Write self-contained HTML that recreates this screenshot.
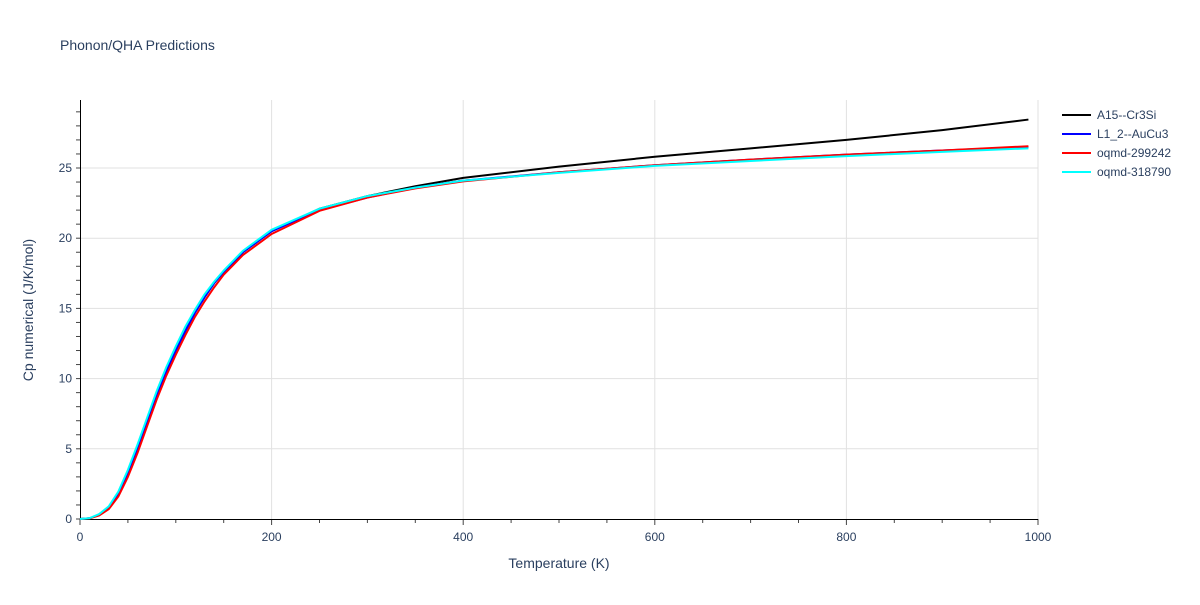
<!DOCTYPE html>
<html><head><meta charset="utf-8"><style>
body{margin:0;background:#fff;font-family:"Liberation Sans",sans-serif;}
svg text{font-family:"Liberation Sans",sans-serif;fill:#2a3f5f;}
</style></head><body>
<svg id="chart" width="1200" height="600" xmlns="http://www.w3.org/2000/svg">
<text x="60" y="50" font-size="14">Phonon/QHA Predictions</text>
<g id="grid"></g><g id="axes"></g><g id="series"></g><g id="legend"></g>
<text x="559" y="568" font-size="14" text-anchor="middle">Temperature (K)</text>
<text transform="translate(33,310) rotate(-90)" font-size="14" text-anchor="middle">Cp numerical (J/K/mol)</text>
</svg>
<script>
const temps=[0,10,20,30,40,50,60,70,80,90,100,110,120,130,140,150,160,170,180,190,200,250,300,350,400,500,600,700,800,900,990];
const cpA15=[0,0.05,0.3,0.8,1.8,3.3,5.0,6.9,8.8,10.5,12.0,13.4,14.7,15.8,16.8,17.6,18.3,19.0,19.5,20.0,20.5,22.1,23.0,23.7,24.3,25.1,25.8,26.4,27.0,27.7,28.45];
const cpL12=[0,0.05,0.3,0.8,1.8,3.3,5.0,6.9,8.8,10.5,12.0,13.4,14.7,15.8,16.8,17.6,18.3,19.0,19.5,20.0,20.5,22.0,22.9,23.6,24.1,24.7,25.2,25.6,25.95,26.25,26.5];
const cp299242=[0,0.04,0.25,0.7,1.6,3.0,4.7,6.6,8.5,10.2,11.7,13.1,14.4,15.5,16.5,17.4,18.1,18.8,19.3,19.8,20.3,21.95,22.9,23.55,24.05,24.7,25.2,25.6,25.95,26.25,26.55];
const cp318790=[0,0.06,0.35,0.9,1.95,3.5,5.3,7.2,9.1,10.8,12.3,13.7,14.9,16.0,16.9,17.7,18.4,19.1,19.6,20.1,20.6,22.1,23.0,23.6,24.1,24.65,25.15,25.5,25.85,26.15,26.4];
const xTicks=[0,200,400,600,800,1000];
const yTicks=[0,5,10,15,20,25];
const seriesNames=["A15--Cr3Si","L1_2--AuCu3","oqmd-299242","oqmd-318790"];
const seriesColors=["#000000","#0000ff","#ff0000","#00ffff"];
const seriesData=[cpA15,cpL12,cp299242,cp318790];
const NS="http://www.w3.org/2000/svg";
const X=v=>80+v*0.958, Y=v=>519-v*14.04;
function mk(t,a,p){const e=document.createElementNS(NS,t);for(const k in a)e.setAttribute(k,a[k]);p.appendChild(e);return e;}
const grid=document.getElementById('grid'),axes=document.getElementById('axes'),ser=document.getElementById('series'),leg=document.getElementById('legend');
xTicks.forEach(t=>{
 if(t>0){const l=mk('line',{x1:X(t),x2:X(t),y1:100,y2:519,stroke:'#e1e1e1'},grid);
 
 }
 const tx=mk('text',{x:X(t),y:541,'font-size':12,'text-anchor':'middle'},axes);tx.textContent=t;
 
 
});
for(let t=0;t<=1000;t+=50){const m=mk('line',{x1:X(t),x2:X(t),y1:519,y2:t%200?523:525,stroke:'#444'},axes);
 
 }
yTicks.forEach(t=>{
 if(t>0){const l=mk('line',{x1:80,x2:1038,y1:Y(t),y2:Y(t),stroke:'#e1e1e1'},grid);
 
 }
 const tx=mk('text',{x:72,y:Y(t)+4,'font-size':12,'text-anchor':'end'},axes);tx.textContent=t;
 
 
});
for(let t=0;t<=29;t++){const m=mk('line',{x1:76,x2:80,y1:Y(t),y2:Y(t),stroke:'#444'},axes);
 
 }
const xa=mk('line',{x1:80,x2:1038,y1:519.5,y2:519.5,stroke:'#000'},axes);


const ya=mk('line',{x1:80.5,x2:80.5,y1:100,y2:520,stroke:'#000'},axes);


seriesData.forEach((d,i)=>{
 const p=mk('polyline',{points:temps.map((t,j)=>X(t)+','+Y(d[j])).join(' '),fill:'none',stroke:seriesColors[i],'stroke-width':2},ser);
 
 
 const y=115+i*19;
 const g=mk('g',{},leg);
 
 
 mk('line',{x1:1062,x2:1091,y1:y,y2:y,stroke:seriesColors[i],'stroke-width':2},g);
 const tx=mk('text',{x:1097,y:y+4,'font-size':12},g);tx.textContent=seriesNames[i];
});
</script>
</body></html>
